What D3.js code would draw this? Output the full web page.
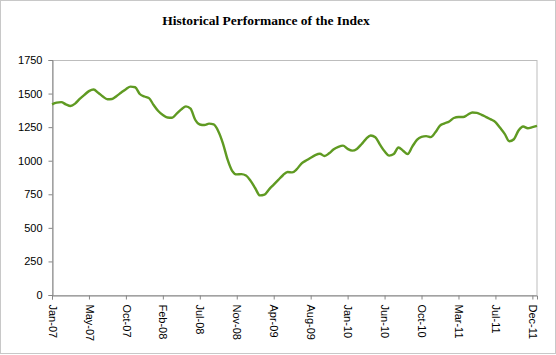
<!DOCTYPE html>
<html><head><meta charset="utf-8">
<script src="https://cdn.jsdelivr.net/npm/d3@7"></script>
<style>body{margin:0;background:#fff;}svg{display:block;}</style>
</head><body>
<svg id="c" width="556" height="355"></svg>
<script>
const title = "Historical Performance of the Index";
// index values, sampled at equal intervals from Jan-07 to end of Dec-11
const values = [1420,1432,1436,1420,1408,1425,1460,1490,1518,1530,
1506,1478,1458,1460,1482,1508,1533,1552,1547,1497,
1478,1466,1415,1370,1340,1322,1320,1350,1382,1405,
1388,1305,1270,1266,1276,1270,1220,1130,1010,925,
898,900,890,850,795,742,748,787,822,857,
892,916,913,937,979,1001,1022,1042,1052,1035,
1055,1085,1103,1112,1088,1075,1088,1123,1163,1188,
1175,1120,1070,1038,1050,1098,1075,1050,1105,1155,
1178,1183,1176,1212,1262,1278,1292,1318,1325,1325,
1342,1359,1356,1342,1325,1308,1288,1245,1200,1145,
1160,1225,1255,1242,1250,1259];
const tickLabels = ["Jan-07","May-07","Oct-07","Feb-08","Jul-08","Nov-08","Apr-09",
"Aug-09","Jan-10","Jun-10","Oct-10","Mar-11","Jul-11","Dec-11"];
const samplesPerTick = 8;
const yTicks = [0,250,500,750,1000,1250,1500,1750];

const svg = d3.select("#c");
const W = 556, H = 355;
const m = {left:52, right:19, top:60, bottom:60};
const x = d3.scaleLinear().domain([0, values.length-1]).range([m.left, W-m.right]);
const y = d3.scaleLinear().domain([0,1750]).range([H-m.bottom, m.top]);

svg.append("rect").attr("x",0.5).attr("y",0.5).attr("width",W-1).attr("height",H-2)
  .attr("fill","#fff").attr("stroke","#c8c8c8");

svg.append("text").attr("x",266).attr("y",25).attr("text-anchor","middle")
  .attr("font-family","'Liberation Serif','Times New Roman',serif").attr("font-weight","bold")
  .attr("font-size",13.5).attr("fill","#000").text(title);

// plot border
svg.append("rect").attr("x",m.left+0.5).attr("y",m.top+0.5)
  .attr("width",W-m.right-m.left-0.5).attr("height",H-m.bottom-m.top)
  .attr("fill","none").attr("stroke","#bdbdbd");

const yAxis = d3.axisLeft(y).tickValues(yTicks).tickSize(4).tickPadding(6).tickFormat(d3.format("d"));
const gy = svg.append("g").attr("transform",`translate(${m.left+0.5},0)`).call(yAxis);
gy.select(".domain").attr("stroke","#868686");
gy.selectAll(".tick line").attr("stroke","#868686");
gy.selectAll("text").attr("font-family","'Liberation Sans',Arial,sans-serif").attr("font-size",11).attr("fill","#000");

const tickIdx = tickLabels.map((_,i)=>i*samplesPerTick);
const xAxis = d3.axisBottom(x).tickValues(tickIdx).tickSize(4).tickPadding(8)
  .tickFormat((d,i)=>tickLabels[i]);
const gx = svg.append("g").attr("transform",`translate(0,${H-m.bottom+0.5})`).call(xAxis);
gx.select(".domain").attr("stroke","#868686");
gx.selectAll(".tick line").attr("stroke","#868686");
gx.selectAll("text").attr("font-family","'Liberation Sans',Arial,sans-serif").attr("font-size",11).attr("fill","#000")
  .attr("text-anchor","start").attr("dy","0.35em").attr("transform","rotate(90)").attr("x",9).attr("y",0);

const line = d3.line().x((d,i)=>x(i)).y(d=>y(d)).curve(d3.curveMonotoneX);
svg.append("path").datum(values).attr("d",line).attr("fill","none")
  .attr("stroke","#5f9a22").attr("stroke-width",2.4).attr("stroke-linejoin","round");
</script>
</body></html>
